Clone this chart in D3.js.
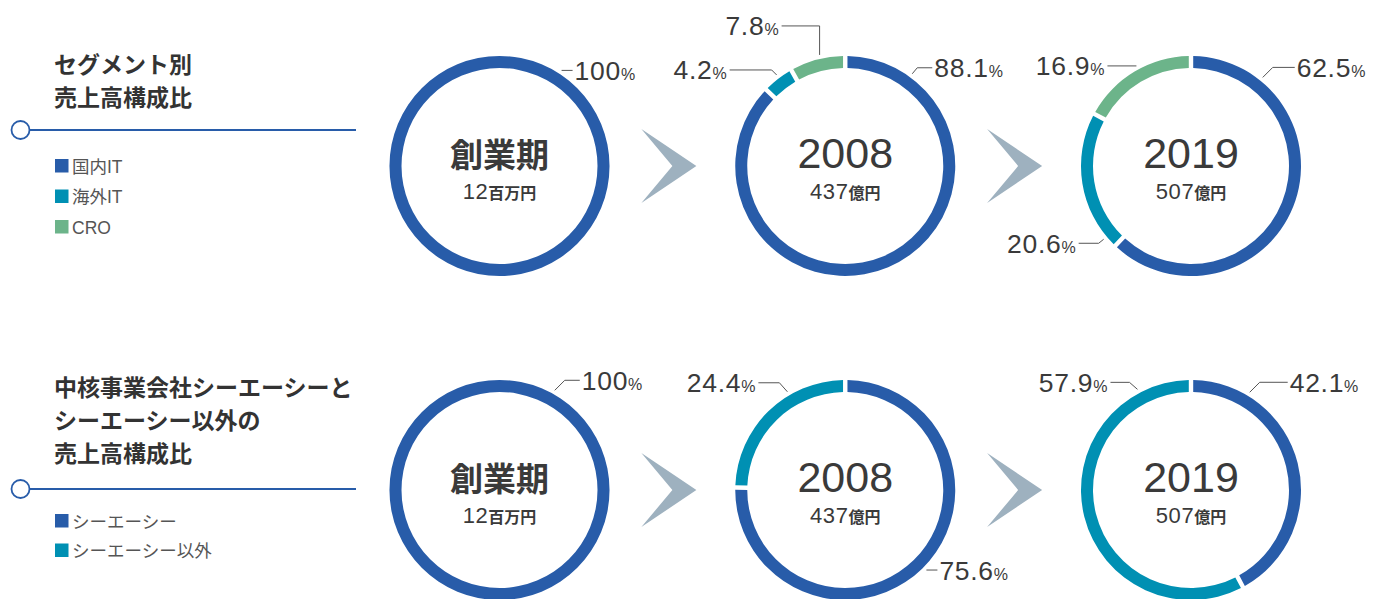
<!DOCTYPE html>
<html>
<head>
<meta charset="utf-8">
<script src="https://cdn.jsdelivr.net/npm/d3@7"></script>
<style>
  html, body { margin: 0; padding: 0; background: #fff; }
  svg { display: block; }
</style>
</head>
<body>
<svg id="chart" width="1376" height="599"></svg>
<script>
// ---------- data ----------
const periods = ["創業期", "2008", "2019"];
const amounts = ["12", "437", "507"];
const units = ["百万円", "億円", "億円"];

const segTitle = ["セグメント別", "売上高構成比"];
const segCategories = ["国内IT", "海外IT", "CRO"];
const segValues = [[100, 0, 0], [88.1, 4.2, 7.8], [62.5, 20.6, 16.9]];

const coreTitle = ["中核事業会社シーエーシーと", "シーエーシー以外の", "売上高構成比"];
const coreCategories = ["シーエーシー", "シーエーシー以外"];
const coreValues = [[100, 0], [75.6, 24.4], [42.1, 57.9]];

// ---------- styling / layout ----------
const colors = ["#285ca9", "#0090b3", "#6cb48a"];
const arrowColor = "#9eb1bf";
const textColor = "#3a3a3a";
const latin = "'Liberation Sans', Arial, 'Noto Sans CJK JP', sans-serif";
const cjk = "'Noto Sans CJK JP', 'Liberation Sans', sans-serif";

// label callout placement: angle (deg, clockwise from top), elbow offset, horizontal length
const segLabelLayout = [
  [{a: 33, e: [0, 0], len: 11}],
  [{a: 36, e: [5, -6], len: 15}, {a: -37, e: [-5, -5], len: 42}, {a: -13, e: [0, -29], len: 38}],
  [{a: 39, e: [10, -10], len: 22}, {a: 230, e: [-5, 4], len: 20}, {a: -28.6, e: [0, 0], len: 29}]
];
const coreLabelLayout = [
  [{a: 29, e: [10, -10], len: 15}],
  [{a: 134.6, e: [0, 0], len: 11}, {a: -30.5, e: [-8, -9], len: 21}],
  [{a: 31, e: [10, -10], len: 28}, {a: -28, e: [-8, -7], len: 19}]
];

const svg = d3.select("#chart");
const outerR = 110, innerR = 98, leaderR = 114;

const x = d3.scalePoint().domain(d3.range(periods.length)).range([499.5, 1191]);

const pie = d3.pie().sort(null).value(d => d.v).padAngle(0.03);
const arc = d3.arc().innerRadius(innerR).outerRadius(outerR);

function panel(cy, titleLines, categories, values, layout, lineY, legendY0, legendStep, titleY0) {
  const g = svg.append("g");

  // title
  titleLines.forEach((t, i) => {
    g.append("text")
      .attr("x", 54).attr("y", titleY0 + i * 33)
      .attr("font-family", cjk).attr("font-weight", 700)
      .attr("font-size", 23).attr("fill", "#333")
      .text(t);
  });

  // line with circle
  g.append("line").attr("x1", 30).attr("x2", 356).attr("y1", lineY).attr("y2", lineY)
    .attr("stroke", colors[0]).attr("stroke-width", 1.8);
  g.append("circle").attr("cx", 20.5).attr("cy", lineY).attr("r", 9)
    .attr("fill", "#fff").attr("stroke", colors[0]).attr("stroke-width", 1.8);

  // legend
  categories.forEach((c, i) => {
    const y = legendY0 + i * legendStep;
    g.append("rect").attr("x", 55).attr("y", y - 7).attr("width", 13.5).attr("height", 13.5)
      .attr("fill", colors[i]);
    g.append("text").attr("x", 72).attr("y", y + 6.5)
      .attr("font-family", latin).attr("font-size", 17.5).attr("fill", "#555")
      .text(c);
  });

  // arrows between rings
  for (let i = 0; i < periods.length - 1; i++) {
    const mx = (x(i) + x(i + 1)) / 2;
    const pts = [[-31, -37], [24, 0], [-31, 37], [0, 0]].map(p => [mx + p[0], cy + p[1]]);
    g.append("path").attr("d", d3.line()(pts) + "Z").attr("fill", arrowColor);
  }

  // rings
  values.forEach((vals, i) => {
    const cx = x(i);
    const rg = g.append("g").attr("transform", `translate(${cx},${cy})`);
    const items = vals.map((v, k) => ({v, k})).filter(d => d.v > 0);
    const arcs = pie(items);
    rg.selectAll("path.seg").data(arcs).join("path")
      .attr("class", "seg")
      .attr("d", arc)
      .attr("fill", d => colors[d.data.k]);

    // center labels
    const isWord = isNaN(+periods[i]);
    rg.append("text").attr("text-anchor", "middle")
      .attr("y", isWord ? 1 : 2)
      .attr("font-family", isWord ? cjk : latin)
      .attr("font-weight", isWord ? 700 : 400)
      .attr("font-size", isWord ? 33 : 43)
      .attr("fill", textColor)
      .text(periods[i]);
    const sub = rg.append("text").attr("text-anchor", "middle").attr("y", 33)
      .attr("fill", textColor);
    sub.append("tspan").attr("font-family", latin).attr("font-size", 22)
      .attr("letter-spacing", 0.6).text(amounts[i]);
    sub.append("tspan").attr("font-family", cjk).attr("font-weight", 700)
      .attr("font-size", 16).text(units[i]);

    // percentage callouts
    arcs.forEach((d, j) => {
      const L = layout[i][j];
      const ang = L.a * Math.PI / 180;
      const p0 = [leaderR * Math.sin(ang), -leaderR * Math.cos(ang)];
      const p1 = [p0[0] + L.e[0], p0[1] + L.e[1]];
      const right = Math.sin(ang) > 0;
      const p2 = [p1[0] + (right ? L.len : -L.len), p1[1]];
      rg.append("path").attr("d", d3.line()([p0, p1, p2]))
        .attr("fill", "none").attr("stroke", "#555").attr("stroke-width", 1);
      const t = rg.append("text")
        .attr("x", right ? p2[0] + 2 : p2[0] - 3)
        .attr("y", p2[1] + 9.5)
        .attr("text-anchor", right ? "start" : "end")
        .attr("fill", textColor);
      t.append("tspan").attr("font-family", latin).attr("font-size", 26.5)
        .attr("letter-spacing", 0.7).text(String(d.data.v));
      t.append("tspan").attr("font-family", latin).attr("font-size", 16).text("%");
    });
  });
}

panel(166, segTitle, segCategories, segValues, segLabelLayout, 130, 166, 30.5, 73);
panel(490, coreTitle, coreCategories, coreValues, coreLabelLayout, 489, 521, 29.5, 396);
</script>
</body>
</html>
